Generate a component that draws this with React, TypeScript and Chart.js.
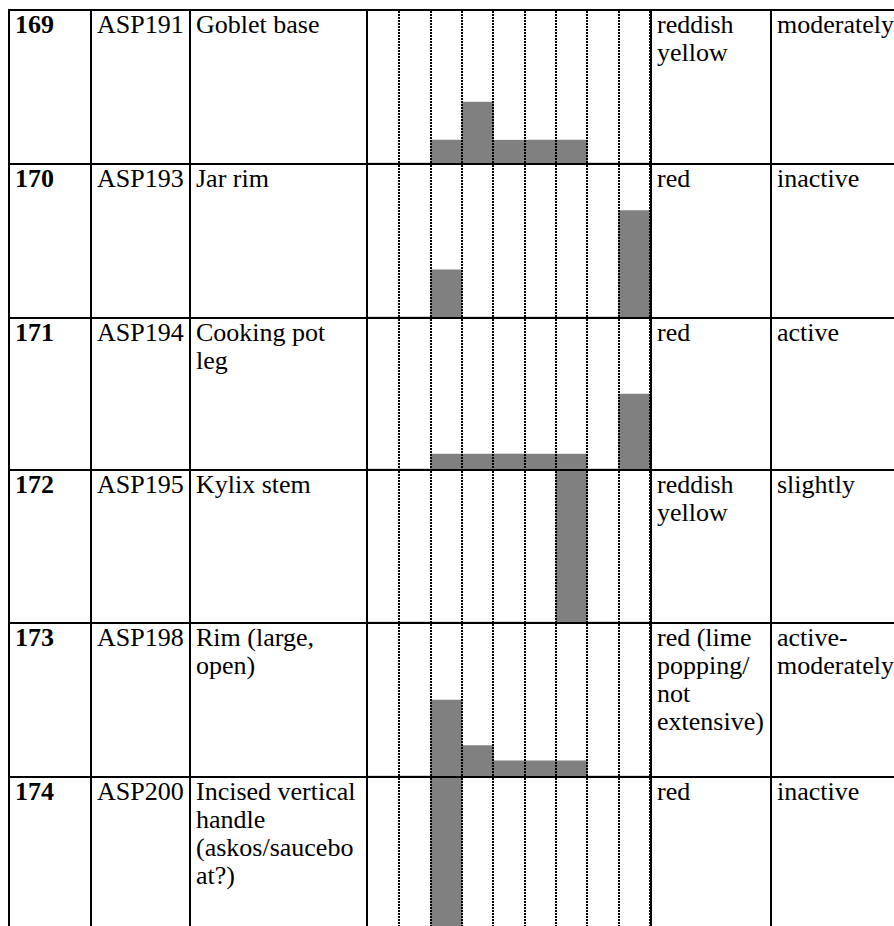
import React, { useEffect, useRef } from "react";
import { Chart, registerables } from "chart.js";

Chart.register(...registerables);

// ---------- DATA ----------
const rowNumbers = ["169", "170", "171", "172", "173", "174"];
const codes = ["ASP191", "ASP193", "ASP194", "ASP195", "ASP198", "ASP200"];
const descriptions = [
  ["Goblet base"],
  ["Jar rim"],
  ["Cooking pot", "leg"],
  ["Kylix stem"],
  ["Rim (large,", "open)"],
  ["Incised vertical", "handle", "(askos/saucebo", "at?)"],
];
const colours = [
  ["reddish", "yellow"],
  ["red"],
  ["red"],
  ["reddish", "yellow"],
  ["red (lime", "popping/", "not", "extensive)"],
  ["red"],
];
const activity = [
  ["moderately"],
  ["inactive"],
  ["active"],
  ["slightly"],
  ["active-", "moderately"],
  ["inactive"],
];
const categories = ["1", "2", "3", "4", "5", "6", "7", "8", "9"];
const values169 = [0, 0, 15, 40, 15, 15, 15, 0, 0];
const values170 = [0, 0, 31, 0, 0, 0, 0, 0, 70];
const values171 = [0, 0, 10, 10, 10, 10, 10, 0, 50];
const values172 = [0, 0, 0, 0, 0, 0, 100, 0, 0];
const values173 = [0, 0, 50, 20, 10, 10, 10, 0, 0];
const values174 = [0, 0, 100, 0, 0, 0, 0, 0, 0];
const seriesValues = [values169, values170, values171, values172, values173, values174];
const valueMax = 100;

// ---------- LAYOUT ----------
const LINE = 2;
const COL_LINES = [8, 90, 189, 366, 650, 770];
const TABLE_RIGHT = 930;
const ROW_LINES = [9, 163, 317, 469, 622, 776, 930];
const FONT_FAMILY = '"Liberation Serif", serif';
const FONT_SIZE = 26;
const LINE_HEIGHT = 28;
const PAD_LEFT = 7;
const PAD_TOP = 2;

function RowChart({ values, width, height }: { values: number[]; width: number; height: number }) {
  const ref = useRef<HTMLCanvasElement | null>(null);
  useEffect(() => {
    if (!ref.current) return;
    const chart = new Chart(ref.current, {
      type: "bar",
      data: {
        labels: categories,
        datasets: [
          {
            data: values,
            backgroundColor: "#808080",
            borderWidth: 0,
            barPercentage: 1,
            categoryPercentage: 1,
          },
        ],
      },
      options: {
        animation: false,
        responsive: false,
        maintainAspectRatio: false,
        devicePixelRatio: 1,
        layout: { padding: 0 },
        plugins: { legend: { display: false }, tooltip: { enabled: false } },
        scales: {
          x: {
            offset: true,
            grid: {
              display: true,
              offset: true,
              drawTicks: false,
              tickLength: 0,
              lineWidth: 2,
              z: 1,
              color: (ctx: any) =>
                ctx.index === 0 || ctx.index === categories.length ? "rgba(0,0,0,0)" : "#000000",
            },
            border: { display: false, dash: [2, 1] },
            ticks: { display: false },
          },
          y: { display: false, min: 0, max: valueMax },
        },
      },
    } as any);
    return () => chart.destroy();
  }, [values, width, height]);
  return <canvas ref={ref} width={width} height={height} style={{ display: "block", width, height }} />;
}

function TextCell({ lines, left, top, bold }: { lines: string[]; left: number; top: number; bold?: boolean }) {
  return (
    <div
      style={{
        position: "absolute",
        left,
        top,
        whiteSpace: "nowrap",
        fontFamily: FONT_FAMILY,
        fontSize: FONT_SIZE,
        lineHeight: `${LINE_HEIGHT}px`,
        fontWeight: bold ? "bold" : "normal",
        color: "#000",
      }}
    >
      {lines.map((l, i) => (
        <div key={i}>{l}</div>
      ))}
    </div>
  );
}

export default function App() {
  const chartLeft = COL_LINES[3] + LINE;
  const chartWidth = COL_LINES[4] - chartLeft;
  return (
    <div
      style={{
        position: "fixed",
        left: 0,
        top: 0,
        width: 894,
        height: 926,
        overflow: "hidden",
        background: "#ffffff",
        fontFamily: FONT_FAMILY,
      }}
    >
      {rowNumbers.map((num, r) => {
        const top = ROW_LINES[r] + LINE;
        const h = ROW_LINES[r + 1] - top;
        const cells = [[num], [codes[r]], descriptions[r], null, colours[r], activity[r]];
        return (
          <React.Fragment key={num}>
            <div style={{ position: "absolute", left: chartLeft, top, width: chartWidth, height: h }}>
              <RowChart values={seriesValues[r]} width={chartWidth} height={h} />
            </div>
            {cells.map((lines, c) =>
              lines ? (
                <TextCell
                  key={c}
                  lines={lines}
                  left={COL_LINES[c] + PAD_LEFT}
                  top={ROW_LINES[r] + PAD_TOP}
                  bold={c === 0}
                />
              ) : null
            )}
          </React.Fragment>
        );
      })}
      {COL_LINES.map((x, i) => (
        <div
          key={"v" + i}
          style={{
            position: "absolute",
            left: x,
            top: ROW_LINES[0],
            width: LINE,
            height: 1000,
            background: "#000",
          }}
        />
      ))}
      {ROW_LINES.map((y, i) => (
        <div
          key={"h" + i}
          style={{
            position: "absolute",
            left: COL_LINES[0],
            top: y,
            width: TABLE_RIGHT - COL_LINES[0],
            height: LINE,
            background: "#000",
          }}
        />
      ))}
    </div>
  );
}
